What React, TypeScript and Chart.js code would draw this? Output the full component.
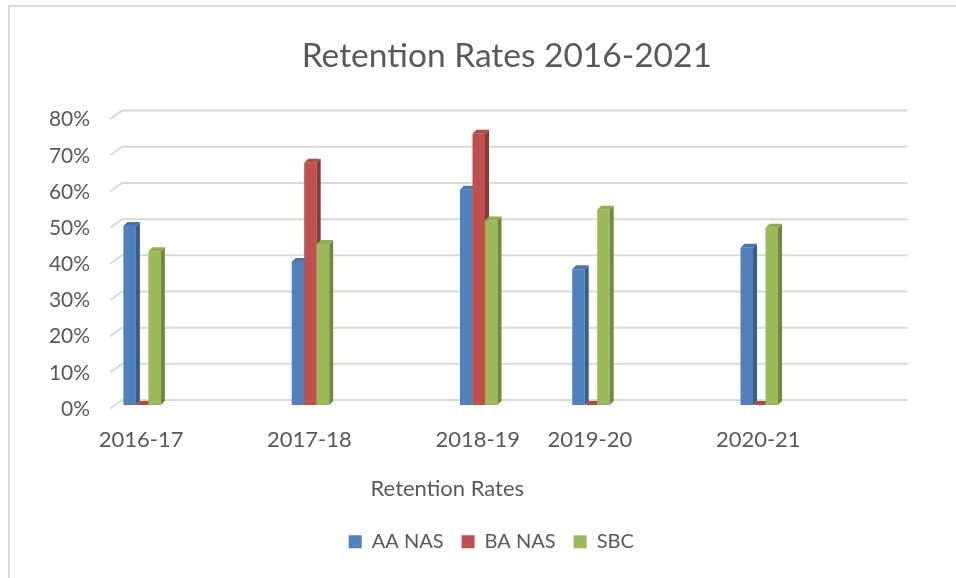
import { useEffect, useRef } from "react";
import { Chart, registerables } from "chart.js";

Chart.register(...registerables);

// ---- data (blank category slots reproduce the spacing of the original sheet) ----
const CATEGORIES = ["2016-17", "", "", "2017-18", "", "", "2018-19", "", "2019-20", "", "", "2020-21", "", ""];
const AA_NAS = [49.5, null, null, 39.5, null, null, 59.5, null, 37.5, null, null, 43.5, null, null];
const BA_NAS = [0, null, null, 67, null, null, 75, null, 0, null, null, 0, null, null];
const SBC = [42.5, null, null, 44.5, null, null, 51, null, 54, null, null, 49, null, null];
const SERIES_NAMES = ["AA NAS", "BA NAS", "SBC"];
const Y_MIN = 0;
const Y_MAX = 80;
const Y_STEP = 10;
const TITLE = "Retention Rates 2016-2021";
const X_TITLE = "Retention Rates";

// ---- styles ----
const FONT = "Lato";
const TEXT = "#595959";
const GRID = "#d9d9d9";
const FRONT = ["#4f81bd", "#c0504d", "#9bbb59"];
const SIDE = ["#385d8a", "#8c3836", "#71893f"];
const TOP = ["#4676b0", "#b34845", "#8fae50"];
const DEPTH = 4;
const X_TITLE_SHIFT = -59.5;
const LEGEND_SHIFT = 36.5;

const gridPlugin = {
  id: "grid3d",
  beforeDatasetsDraw(chart: any) {
    const ctx = chart.ctx;
    const ys = chart.scales.y;
    const { left, right } = chart.chartArea;
    ctx.save();
    ctx.strokeStyle = GRID;
    ctx.lineWidth = 2;
    for (let v = Y_MIN; v <= Y_MAX; v += Y_STEP) {
      const y = ys.getPixelForValue(v);
      ctx.beginPath();
      ctx.moveTo(left - 4, y + 3.5);
      ctx.lineTo(left + 8, y - 5);
      ctx.lineTo(right + 8, y - 5);
      ctx.stroke();
    }
    ctx.restore();

    // bars with 3D faces, drawn series by series (left to right inside a group)
    chart.data.datasets.forEach((ds: any, di: number) => {
      const meta = chart.getDatasetMeta(di);
      meta.data.forEach((el: any, i: number) => {
        if (ds.data[i] == null) return;
        el.draw(ctx);
        const { x, y, base, width } = el.getProps(["x", "y", "base", "width"], true);
        const l = x - width / 2;
        const r = x + width / 2;
        ctx.save();
        ctx.fillStyle = SIDE[di];
        ctx.beginPath();
        ctx.moveTo(r, y);
        ctx.lineTo(r + DEPTH, y - DEPTH);
        ctx.lineTo(r + DEPTH, base - DEPTH);
        ctx.lineTo(r, base);
        ctx.closePath();
        ctx.fill();
        ctx.fillStyle = TOP[di];
        ctx.beginPath();
        ctx.moveTo(l, y);
        ctx.lineTo(l + DEPTH, y - DEPTH);
        ctx.lineTo(r + DEPTH, y - DEPTH);
        ctx.lineTo(r, y);
        ctx.closePath();
        ctx.fill();
        ctx.restore();
      });
    });
    return false;
  },
  afterLayout(chart: any) {
    const xs = chart.scales.x;
    const proto = Object.getPrototypeOf(xs);
    xs.drawTitle = function () {
      const l = this.left;
      const r = this.right;
      this.left = l + X_TITLE_SHIFT;
      this.right = r + X_TITLE_SHIFT;
      proto.drawTitle.call(this);
      this.left = l;
      this.right = r;
    };
    const lg = chart.legend;
    if (lg) {
      lg.left += LEGEND_SHIFT;
      lg.right += LEGEND_SHIFT;
    }
  },
};

export default function App() {
  const ref = useRef<HTMLCanvasElement | null>(null);

  useEffect(() => {
    if (!ref.current) return;
    const series = [AA_NAS, BA_NAS, SBC];
    const chart = new Chart(ref.current, {
      type: "bar",
      data: {
        labels: CATEGORIES,
        datasets: series.map((d, i) => ({
          label: SERIES_NAMES[i],
          data: d,
          backgroundColor: FRONT[i],
          borderWidth: 0,
          categoryPercentage: 0.668,
          barPercentage: 1,
        })),
      },
      options: {
        responsive: false,
        animation: false,
        devicePixelRatio: 1,
        layout: { padding: { left: 0, right: 56.5, top: 0, bottom: 16.3 } },
        plugins: {
          tooltip: { enabled: false },
          title: {
            display: true,
            text: TITLE,
            fullSize: false,
            color: TEXT,
            font: { family: FONT, size: 33.5, weight: "normal", lineHeight: 1.2 },
            padding: { top: 29, bottom: 39.4 },
          },
          legend: {
            display: true,
            position: "bottom",
            labels: {
              boxWidth: 13,
              boxHeight: 13,
              padding: 18,
              color: TEXT,
              font: { family: FONT, size: 20 },
            },
          },
        },
        scales: {
          x: {
            grid: { display: false, drawTicks: false },
            border: { display: false },
            ticks: {
              autoSkip: false,
              maxRotation: 0,
              padding: 21.5,
              labelOffset: -1,
              color: TEXT,
              font: { family: FONT, size: 22, lineHeight: 1.2 },
            },
            title: {
              display: true,
              text: X_TITLE,
              color: TEXT,
              font: { family: FONT, size: 22, lineHeight: 1.2 },
              padding: { top: 4, bottom: 11.6 },
            },
            afterFit: (s: any) => {
              s.height = 108.7;
            },
          },
          y: {
            min: Y_MIN,
            max: Y_MAX,
            grid: { display: false, drawTicks: false },
            border: { display: false },
            ticks: {
              stepSize: Y_STEP,
              padding: 24,
              labelOffset: 4,
              color: TEXT,
              font: { family: FONT, size: 21, lineHeight: 1.2 },
              callback: (v: any) => v + "%",
            },
            afterFit: (s: any) => {
              s.width = 104.1;
            },
          },
        },
      },
      plugins: [gridPlugin],
    });
    return () => chart.destroy();
  }, []);

  return (
    <div
      style={{
        position: "fixed",
        left: 8,
        top: 5,
        width: 948,
        height: 573,
        boxSizing: "border-box",
        borderLeft: "2px solid #d9d9d9",
        borderTop: "2px solid #d9d9d9",
        background: "#fff",
      }}
    >
      <canvas ref={ref} width={946} height={571} style={{ display: "block" }} />
    </div>
  );
}
